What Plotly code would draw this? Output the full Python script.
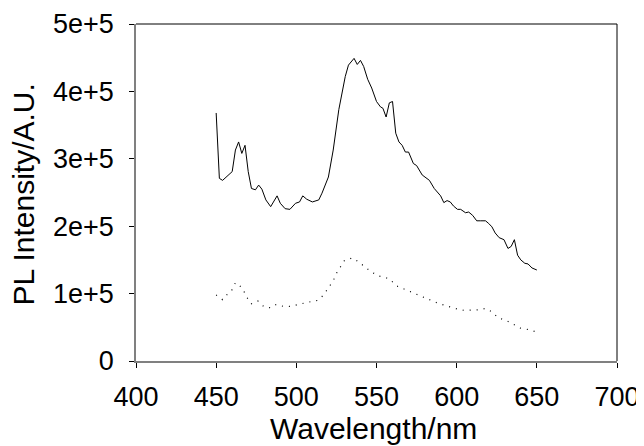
import plotly.graph_objects as go

# solid curve (intensity in units of 1e5)
wl_solid = [450, 452, 454, 458, 460, 462, 464, 466, 468, 470,
            472, 474.5, 476.5, 478.5, 481, 484, 488, 490, 493, 496,
            499.5, 502, 504, 506.5, 510, 514, 516, 520, 523, 526.5,
            530.5, 532.5, 536, 538, 540, 542, 544.5, 547, 550, 552.5,
            554, 556, 558, 560, 562, 564, 566, 568, 570, 573,
            575, 578.5, 580.5, 583, 586, 588, 590, 592, 594, 596,
            598, 600.5, 602.5, 605.5, 607.5, 610, 612.5, 615, 618, 620,
            622, 624, 626.5, 629.5, 632, 634, 636, 638, 640, 642.5,
            644.5, 647, 650]
pl_solid = [3.68, 2.71, 2.68, 2.77, 2.81, 3.13, 3.25, 3.08, 3.20, 2.81,
            2.56, 2.54, 2.61, 2.55, 2.39, 2.29, 2.45, 2.34, 2.26, 2.25,
            2.34, 2.36, 2.45, 2.40, 2.36, 2.39, 2.49, 2.73, 3.13, 3.73,
            4.22, 4.39, 4.49, 4.40, 4.46, 4.37, 4.18, 4.05, 3.85, 3.77,
            3.75, 3.62, 3.83, 3.85, 3.38, 3.25, 3.20, 3.10, 3.10, 2.93,
            2.90, 2.76, 2.72, 2.68, 2.56, 2.50, 2.45, 2.35, 2.38, 2.36,
            2.30, 2.25, 2.25, 2.20, 2.21, 2.16, 2.08, 2.08, 2.08, 2.04,
            1.99, 1.90, 1.83, 1.80, 1.67, 1.70, 1.80, 1.57, 1.50, 1.45,
            1.44, 1.38, 1.35]

# dotted curve
wl_dot = [450, 454, 457, 460, 462, 464, 467, 469, 472, 476,
          480, 484, 487.5, 492, 496, 500.5, 505, 509, 513.5, 517,
          520, 523, 525, 527.5, 530, 535, 539, 542.5, 547, 551.5,
          555.5, 558.5, 562, 566, 570, 574.5, 579, 583, 588, 592,
          596, 600.5, 605, 609, 613.5, 618, 622, 626, 631, 635,
          639.5, 644, 648, 650]
pl_dot = [0.98, 0.91, 0.99, 1.06, 1.16, 1.14, 1.05, 0.95, 0.85, 0.89,
          0.80, 0.79, 0.84, 0.81, 0.81, 0.84, 0.86, 0.88, 0.90, 0.98,
          1.08, 1.19, 1.30, 1.39, 1.49, 1.53, 1.47, 1.40, 1.32, 1.26,
          1.24, 1.21, 1.12, 1.08, 1.04, 0.99, 0.95, 0.91, 0.86, 0.83,
          0.80, 0.77, 0.75, 0.75, 0.76, 0.78, 0.73, 0.64, 0.60, 0.55,
          0.49, 0.47, 0.44, 0.43]

x_ticks = [400, 450, 500, 550, 600, 650, 700]
y_ticks = [0, 1e5, 2e5, 3e5, 4e5, 5e5]
y_tick_text = ["0", "1e+5", "2e+5", "3e+5", "4e+5", "5e+5"]

FONT = "Liberation Sans, Arial, sans-serif"

fig = go.Figure()
fig.add_trace(go.Scatter(x=wl_solid, y=[v * 1e5 for v in pl_solid], mode="lines",
                         line=dict(color="black", width=1), showlegend=False))
fig.add_trace(go.Scatter(x=wl_dot, y=[v * 1e5 for v in pl_dot], mode="lines",
                         line=dict(color="black", width=1.2, dash="1px,6px"), showlegend=False))

axis_style = dict(showgrid=False, zeroline=False, showline=True, linecolor="#808080", linewidth=1.5,
                  ticks="outside", ticklen=5, tickcolor="black", tickwidth=1, automargin=False,
                  ticklabeloverflow="allow", tickfont=dict(family=FONT, size=27, color="black"))

fig.update_xaxes(range=[400, 700], tickvals=x_ticks, ticklabelstandoff=6, **axis_style)
fig.update_yaxes(range=[0, 5e5], tickvals=y_ticks, ticktext=y_tick_text, ticklabelstandoff=10, **axis_style)

# axis titles as annotations so they sit where the reference has them
title_font = dict(family=FONT, size=30, color="black")
fig.add_annotation(text="Wavelength/nm", xref="paper", yref="paper", x=0.494, y=-0.200,
                   xanchor="center", yanchor="middle", showarrow=False, font=title_font)
fig.add_annotation(text="PL Intensity/A.U.", xref="paper", yref="paper", x=-0.233, y=0.494,
                   xanchor="center", yanchor="middle", textangle=-90, showarrow=False, font=title_font)

# top and right frame lines are black
fig.add_shape(type="line", xref="paper", yref="paper", x0=0, x1=1, y0=1, y1=1, line=dict(color="black", width=1))
fig.add_shape(type="line", xref="paper", yref="paper", x0=1, x1=1, y0=0, y1=1, line=dict(color="black", width=1))

# page body adds an 8px offset, margins are set to compensate
fig.update_layout(width=644, height=438, autosize=False,
                  margin=dict(l=127.5, r=35.4, t=16.3, b=85.3),
                  plot_bgcolor="white", paper_bgcolor="white")

fig.write_html("out.html")
